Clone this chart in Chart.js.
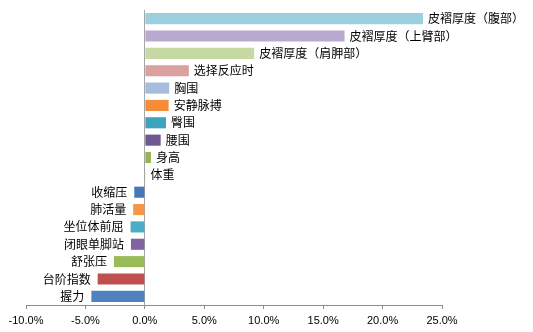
<!DOCTYPE html>
<html>
<head>
<meta charset="utf-8">
<script src="https://cdn.jsdelivr.net/npm/chart.js@4.4.1/dist/chart.umd.min.js"></script>
<style>
  html, body { margin: 0; padding: 0; background: #fff; }
  #wrap { width: 533px; height: 332px; }
</style>
</head>
<body>
<div id="wrap"><canvas id="changeChart" width="533" height="332"></canvas></div>
<script>
// indicators, top to bottom
const indicators = [
    '皮褶厚度（腹部）', '皮褶厚度（上臂部）', '皮褶厚度（肩胛部）', '选择反应时',
    '胸围', '安静脉搏', '臀围', '腰围', '身高', '体重',
    '收缩压', '肺活量', '坐位体前屈', '闭眼单脚站', '舒张压', '台阶指数', '握力'
];
// percent change of each indicator
const changes = [
    23.4, 16.8, 9.2, 3.7,
    2.05, 2.0, 1.78, 1.33, 0.51, 0.05,
    -0.89, -0.98, -1.2, -1.17, -2.6, -3.97, -4.5
];
const barColors = [
    '#9dd0de', '#b9a9d0', '#c6d9a3', '#dba0a0',
    '#a5bcdd', '#f68c3a', '#3da3bf', '#6f5694', '#93b44f', '#b94a47',
    '#4677ba', '#f79646', '#4bacc6', '#8064a2', '#9bbb59', '#c0504d', '#4f81bd'
];
const xTicks = [-10, -5, 0, 5, 10, 15, 20, 25];

// name of each indicator written at the end of its bar
const barNames = {
    id: 'barNames',
    afterDatasetsDraw(chart) {
        const ctx = chart.ctx;
        const meta = chart.getDatasetMeta(0);
        ctx.save();
        ctx.font = '12px "Noto Sans CJK SC", sans-serif';
        ctx.fillStyle = '#000';
        ctx.textBaseline = 'middle';
        meta.data.forEach((bar, i) => {
            const v = changes[i];
            if (v >= 0) {
                ctx.textAlign = 'left';
                ctx.fillText(indicators[i], bar.x + 5, bar.y);
            } else {
                ctx.textAlign = 'right';
                ctx.fillText(indicators[i], bar.x - 7, bar.y);
            }
        });
        ctx.restore();
    }
};

new Chart(document.getElementById('changeChart'), {
    type: 'bar',
    data: {
        labels: indicators,
        datasets: [{
            data: changes,
            backgroundColor: barColors,
            borderWidth: 0,
            barPercentage: 0.64,
            categoryPercentage: 1
        }]
    },
    options: {
        indexAxis: 'y',
        responsive: false,
        animation: false,
        layout: { padding: { left: 26, right: 91, top: 10, bottom: 0 } },
        plugins: {
            legend: { display: false },
            tooltip: { enabled: false }
        },
        scales: {
            x: {
                min: -10,
                max: 25,
                afterBuildTicks: (axis) => {
                    axis.ticks = xTicks.map(v => ({ value: v }));
                },
                grid: {
                    drawOnChartArea: false,
                    drawTicks: true,
                    tickLength: 4,
                    color: '#8c8c8c'
                },
                border: { display: true, color: '#8c8c8c', width: 1 },
                ticks: {
                    padding: 6,
                    color: '#000',
                    font: { family: '"Liberation Sans", Arial, sans-serif', size: 11, lineHeight: 1 },
                    callback: (v) => v.toFixed(1) + '%'
                }
            },
            y: {
                position: { x: 0 },
                grid: { display: false },
                border: { display: true, color: '#a6a6a6', width: 1 },
                ticks: { display: false }
            }
        }
    },
    plugins: [barNames]
});
</script>
</body>
</html>
